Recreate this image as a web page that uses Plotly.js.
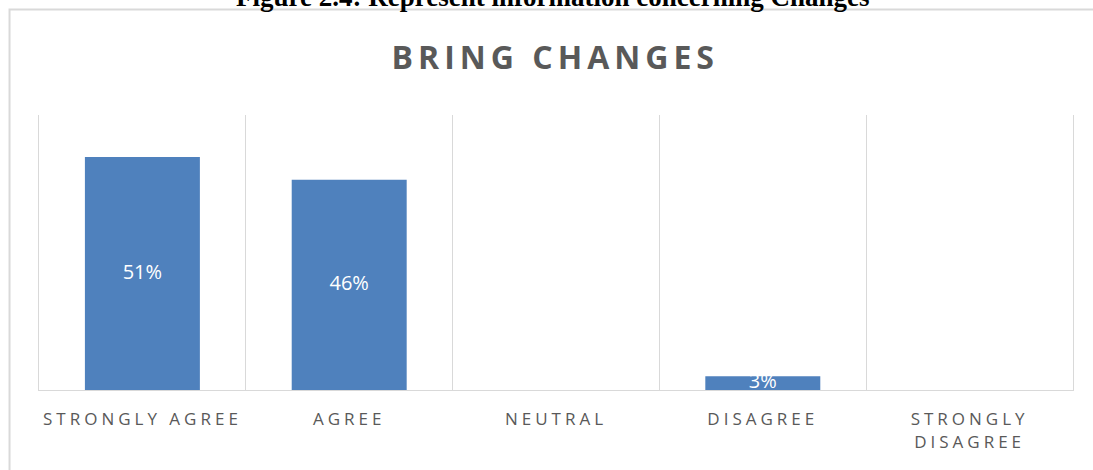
<!DOCTYPE html>
<html>
<head>
<meta charset="utf-8">
<script src="https://cdn.plot.ly/plotly-3.0.1.min.js"></script>
<style>
html,body{margin:0;padding:0;background:#fff;}
#chart{width:1093px;height:470px;}
.gtitle{letter-spacing:5px;}
.xtick text{letter-spacing:4px;}
</style>
</head>
<body>
<div id="chart"></div>
<script>
const categories = ["STRONGLY AGREE", "AGREE", "NEUTRAL", "DISAGREE", "STRONGLY<br>DISAGREE"];
const percentValues = [51, 46, 0, 3, 0];
const valueLabels = ["51%", "46%", "0%", "3%", "0%"];
const chartTitle = "BRING CHANGES";
const captionText = "Figure 2.4: Represent information concerning Changes";

const barTrace = {
  type: "bar",
  x: categories,
  y: percentValues,
  marker: {color: "#4f81bd"},
  hoverinfo: "skip",
  showlegend: false
};
const labelTrace = {
  type: "scatter",
  mode: "text",
  x: categories,
  y: percentValues.map(v => v / 2),
  text: valueLabels,
  textposition: "middle center",
  textfont: {family: "Open Sans, sans-serif", size: 20, color: "#ffffff"},
  hoverinfo: "skip",
  showlegend: false,
  cliponaxis: false
};

const layout = {
  width: 1093,
  height: 470,
  margin: {l: 39, r: 20, t: 115, b: 80},
  paper_bgcolor: "#ffffff",
  plot_bgcolor: "#ffffff",
  bargap: 0.444,
  title: {
    text: "<b>" + chartTitle + "</b>",
    font: {family: "Open Sans, sans-serif", size: 32, color: "#595959"},
    x: 0.508, xanchor: "center",
    y: 0.878, yanchor: "middle"
  },
  xaxis: {
    type: "category",
    tickson: "boundaries",
    showgrid: true,
    gridcolor: "#d9d9d9",
    gridwidth: 1,
    showline: true,
    linecolor: "#d9d9d9",
    linewidth: 1,
    ticks: "",
    ticklabelstandoff: 14,
    tickfont: {family: "Open Sans, sans-serif", size: 17, color: "#595959"},
    fixedrange: true
  },
  yaxis: {
    range: [0, 60.2],
    showgrid: false,
    zeroline: false,
    showline: true,
    mirror: true,
    linecolor: "#d9d9d9",
    linewidth: 1,
    showticklabels: false,
    ticks: "",
    fixedrange: true
  },
  shapes: [{
    type: "rect",
    xref: "paper", yref: "paper",
    x0: -0.0285, x1: 1.05,
    y0: -0.5, y1: 1.3836,
    line: {color: "#d9d9d9", width: 2},
    fillcolor: "rgba(0,0,0,0)",
    layer: "below"
  }],
  annotations: [{
    xref: "paper", yref: "paper",
    x: 0.497, y: 1.367,
    xanchor: "center", yanchor: "bottom",
    text: "<b>" + captionText + "</b>",
    showarrow: false,
    font: {family: "Liberation Serif, Times New Roman, serif", size: 27, color: "#000000"}
  }]
};

Plotly.newPlot("chart", [barTrace, labelTrace], layout, {displayModeBar: false, staticPlot: true});
</script>
</body>
</html>
